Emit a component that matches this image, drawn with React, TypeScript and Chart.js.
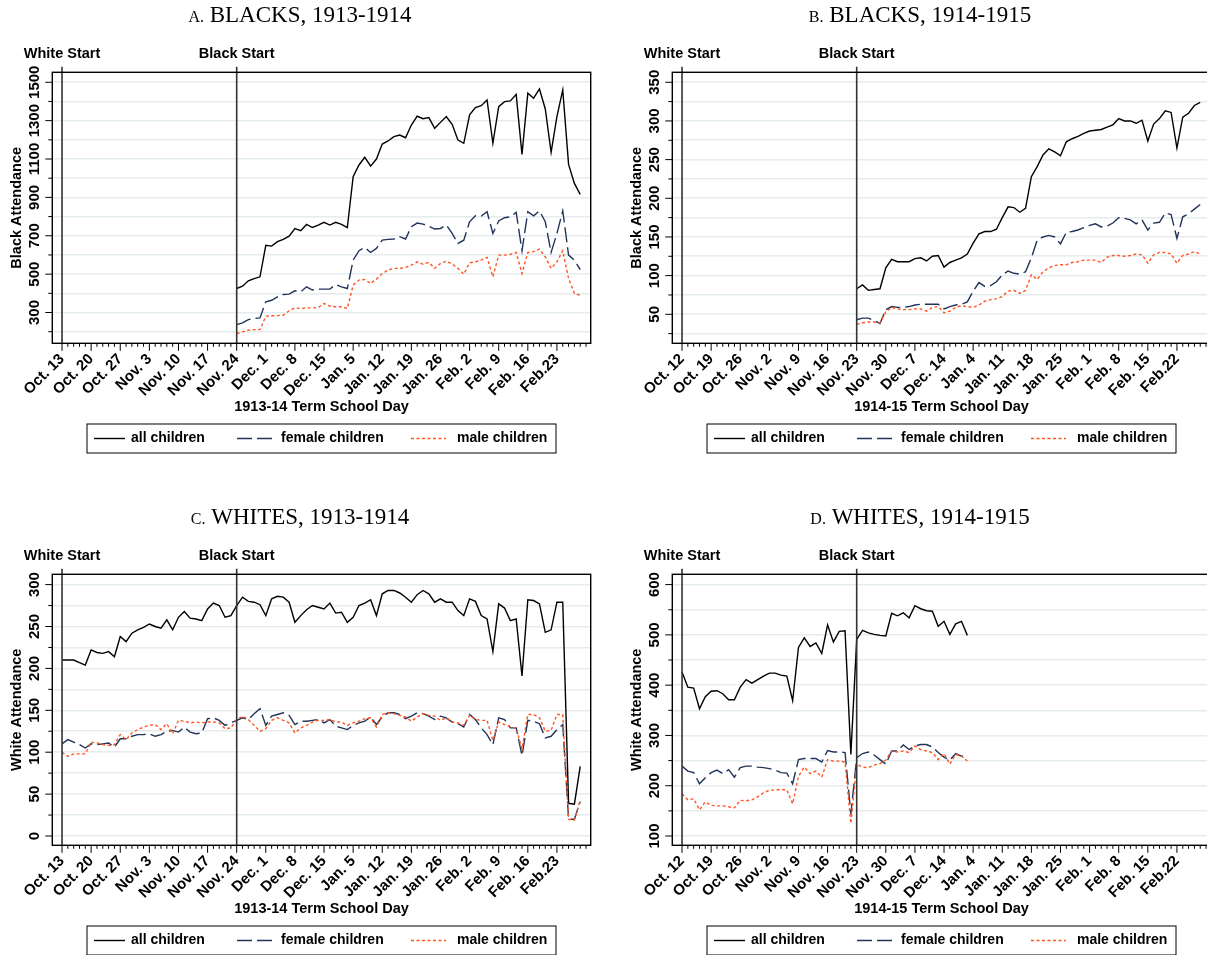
import React, { useEffect, useRef } from "react";
import { Chart, registerables } from "chart.js";

Chart.register(...registerables);

// ---------------- DATA ----------------
const seriesLabels = ["all children", "female children", "male children"];

const panelTitles = [
  "A. BLACKS, 1913-1914",
  "B. BLACKS, 1914-1915",
  "C. WHITES, 1913-1914",
  "D. WHITES, 1914-1915",
];
const yTitles = ["Black Attendance", "Black Attendance", "White Attendance", "White Attendance"];
const xTitles = ["1913-14 Term School Day", "1914-15 Term School Day"];
const startLabels = ["White Start", "Black Start"];
const startDays = [0, 30];

const tickDays = [0, 5, 10, 15, 20, 25, 30, 35, 40, 45, 50, 55, 60, 65, 70, 75, 80, 85];
const tickLabels1314 = [
  "Oct. 13", "Oct. 20", "Oct. 27", "Nov. 3", "Nov. 10", "Nov. 17", "Nov. 24", "Dec. 1", "Dec. 8",
  "Dec. 15", "Jan. 5", "Jan. 12", "Jan. 19", "Jan. 26", "Feb. 2", "Feb. 9", "Feb. 16", "Feb.23",
];
const tickLabels1415 = [
  "Oct. 12", "Oct. 19", "Oct. 26", "Nov. 2", "Nov. 9", "Nov. 16", "Nov. 23", "Nov. 30", "Dec. 7",
  "Dec. 14", "Jan. 4", "Jan. 11", "Jan. 18", "Jan. 25", "Feb. 1", "Feb. 8", "Feb. 15", "Feb.22",
];

// first school day index of each series
const blackFirstDay = 30;
const whiteFirstDay = 0;

// Panel A: Blacks 1913-14 (school days 30..89)
const blacksAll1314 = [
  425, 437, 465, 477, 486, 650, 646, 669, 681, 698,
  737, 726, 759, 743, 756, 770, 756, 770, 759, 742,
  1008, 1069, 1109, 1063, 1100, 1178, 1194, 1217, 1225, 1211,
  1277, 1323, 1310, 1316, 1260, 1291, 1321, 1281, 1199, 1182,
  1330, 1368, 1378, 1408, 1182, 1373, 1399, 1403, 1437, 1124,
  1443, 1417, 1465, 1361, 1135, 1321, 1460, 1072, 973, 916,
];
const blacksFemale1314 = [
  237, 246, 263, 269, 272, 356, 364, 382, 394, 396,
  413, 408, 434, 417, 422, 422, 422, 446, 434, 425,
  573, 622, 639, 613, 634, 677, 681, 683, 695, 683,
  747, 766, 761, 750, 735, 738, 756, 712, 660, 677,
  773, 804, 803, 825, 712, 777, 794, 799, 822, 622,
  825, 804, 830, 773, 613, 712, 830, 599, 573, 524,
];
const blacksMale1314 = [
  190, 199, 208, 211, 211, 281, 283, 284, 286, 309,
  324, 321, 324, 324, 326, 347, 333, 330, 330, 321,
  443, 469, 472, 451, 474, 503, 521, 530, 530, 535,
  547, 564, 552, 561, 530, 556, 568, 552, 530, 500,
  559, 564, 573, 587, 486, 599, 599, 603, 613, 503,
  613, 617, 630, 590, 530, 564, 622, 477, 399, 390,
];

// Panel B: Blacks 1914-15 (school days 30..89)
const blacksAll1415 = [
  83, 88, 81, 82, 83, 110, 121, 118, 118, 118,
  122, 123, 119, 125, 126, 111, 117, 120, 123, 128,
  142, 154, 157, 157, 160, 175, 189, 188, 182, 187,
  228, 241, 256, 264, 260, 255, 273, 277, 280, 284,
  287, 288, 289, 292, 295, 303, 300, 300, 297, 301,
  274, 296, 303, 313, 311, 265, 305, 310, 320, 324,
];
const blacksFemale1415 = [
  43, 45, 45, 42, 38, 56, 60, 59, 59, 60,
  62, 63, 63, 63, 63, 57, 60, 62, 63, 66,
  80, 91, 86, 87, 92, 101, 106, 103, 102, 105,
  123, 146, 150, 152, 150, 141, 156, 157, 159, 162,
  165, 167, 163, 164, 168, 175, 174, 172, 167, 172,
  159, 168, 169, 181, 179, 148, 176, 180, 186, 192,
];
const blacksMale1415 = [
  37, 39, 40, 40, 39, 53, 59, 57, 56, 56,
  57, 57, 54, 59, 60, 52, 54, 59, 61, 60,
  59, 62, 67, 69, 70, 73, 80, 81, 77, 81,
  101, 95, 105, 110, 113, 114, 114, 117, 118, 120,
  120, 120, 117, 124, 126, 126, 125, 126, 128, 127,
  116, 127, 130, 130, 128, 116, 126, 128, 131, 128,
];

// Panel C: Whites 1913-14 (school days 0..89)
const whitesAll1314 = [
  210, 210, 210, 207, 204, 222, 219, 218, 220, 214,
  238, 232, 242, 246, 249, 253, 250, 248, 258, 246,
  261, 268, 260, 259, 257, 271, 278, 275, 261, 263,
  275, 285, 280, 279, 276, 263, 283, 286, 285, 279,
  255, 263, 270, 275, 273, 271, 278, 266, 267, 255,
  261, 275, 278, 282, 263, 289, 293, 293, 290, 285,
  279, 288, 293, 289, 279, 283, 279, 279, 269, 263,
  283, 280, 263, 259, 220, 277, 272, 257, 259, 191,
  282, 281, 277, 243, 246, 279, 279, 39, 38, 83,
];
const whitesFemale1314 = [
  110, 115, 112, 109, 105, 110, 109, 110, 111, 106,
  116, 116, 119, 121, 121, 122, 119, 121, 125, 126,
  124, 130, 124, 122, 123, 140, 141, 138, 132, 135,
  138, 141, 139, 146, 152, 132, 143, 145, 147, 144,
  133, 137, 137, 138, 139, 135, 139, 131, 129, 127,
  132, 135, 137, 142, 133, 142, 147, 147, 145, 140,
  143, 147, 146, 143, 139, 143, 141, 136, 134, 130,
  145, 139, 129, 121, 109, 141, 139, 129, 129, 96,
  138, 137, 134, 117, 119, 127, 133, 20, 20, 41,
];
const whitesMale1314 = [
  100, 95, 98, 98, 98, 112, 111, 109, 108, 109,
  121, 115, 123, 127, 130, 132, 133, 127, 134, 122,
  138, 137, 135, 136, 135, 136, 136, 135, 128, 129,
  139, 143, 139, 132, 125, 128, 138, 141, 138, 135,
  123, 129, 132, 136, 138, 138, 139, 136, 136, 132,
  135, 137, 140, 141, 130, 145, 147, 146, 144, 142,
  137, 142, 146, 144, 143, 138, 141, 136, 135, 132,
  144, 139, 138, 138, 114, 136, 133, 130, 129, 104,
  145, 145, 141, 125, 126, 145, 145, 20, 19, 43,
];

// Panel D: Whites 1914-15 (school days 0..49)
const whitesAll1415 = [
  426, 396, 394, 353, 377, 388, 389, 383, 371, 371,
  396, 411, 404, 411, 418, 424, 424, 420, 418, 369,
  475, 494, 477, 484, 463, 520, 486, 507, 508, 262,
  491, 509, 504, 501, 499, 498, 543, 538, 544, 534,
  558, 552, 548, 547, 517, 527, 501, 522, 527, 499,
];
const whitesFemale1415 = [
  239, 229, 226, 204, 216, 226, 231, 224, 232, 217,
  236, 239, 239, 237, 236, 234, 231, 226, 225, 204,
  252, 254, 254, 254, 247, 270, 267, 267, 266, 144,
  256, 264, 267, 261, 252, 243, 269, 269, 281, 272,
  279, 282, 282, 277, 266, 257, 251, 264, 259, 257,
];
const whitesMale1415 = [
  184, 172, 174, 152, 168, 161, 160, 160, 158, 156,
  171, 170, 172, 178, 186, 191, 192, 192, 192, 164,
  219, 237, 224, 229, 217, 252, 249, 249, 247, 125,
  243, 237, 236, 241, 244, 251, 269, 267, 269, 266,
  279, 272, 269, 266, 252, 264, 243, 262, 259, 249,
];

// y-axis gridlines / labelled ticks
const yGridA = [200, 300, 400, 500, 600, 700, 800, 900, 1000, 1100, 1200, 1300, 1400, 1500];
const yLabelsA = [300, 500, 700, 900, 1100, 1300, 1500];
const yGridB = [25, 50, 75, 100, 125, 150, 175, 200, 225, 250, 275, 300, 325, 350];
const yLabelsB = [50, 100, 150, 200, 250, 300, 350];
const yGridC = [0, 25, 50, 75, 100, 125, 150, 175, 200, 225, 250, 275, 300];
const yLabelsC = [0, 50, 100, 150, 200, 250, 300];
const yGridD = [100, 150, 200, 250, 300, 350, 400, 450, 500, 550, 600];
const yLabelsD = [100, 200, 300, 400, 500, 600];

// ---------------- LAYOUT / STYLE ----------------
const W = 604;
const H = 470;
const PLOT_LEFT = 52.3;
const PLOT_TOP = 72.3;
const PLOT_RIGHT = 590.7;
const PLOT_BOTTOM = 343.3;
const X_MIN = -1.67;
const X_MAX = 90.8;
const LAST_MINOR_TICK = 90;

const SANS = '"Liberation Sans", Arial, Helvetica, sans-serif';
const SERIF = '"Liberation Serif", "Times New Roman", serif';
const GRID_COLOR = "#e4ecee";
const COL_ALL = "#000000";
const COL_FEMALE = "#22345a";
const COL_MALE = "#ff5522";
const DASH_FEMALE = [15, 5];
const DASH_MALE = [3, 2.5];

type Spec = {
  title: string;
  yTitle: string;
  xTitle: string;
  tickLabels: string[];
  first: number;
  all: number[];
  female: number[];
  male: number[];
  yMin: number;
  yMax: number;
  yGrid: number[];
  yLabeled: number[];
  left: number;
  top: number;
};

const panels: Spec[] = [
  {
    title: panelTitles[0], yTitle: yTitles[0], xTitle: xTitles[0], tickLabels: tickLabels1314,
    first: blackFirstDay, all: blacksAll1314, female: blacksFemale1314, male: blacksMale1314,
    yMin: 139.5, yMax: 1552, yGrid: yGridA, yLabeled: yLabelsA, left: 0, top: 0,
  },
  {
    title: panelTitles[1], yTitle: yTitles[1], xTitle: xTitles[1], tickLabels: tickLabels1415,
    first: blackFirstDay, all: blacksAll1415, female: blacksFemale1415, male: blacksMale1415,
    yMin: 12.5, yMax: 362.9, yGrid: yGridB, yLabeled: yLabelsB, left: 620, top: 0,
  },
  {
    title: panelTitles[2], yTitle: yTitles[2], xTitle: xTitles[0], tickLabels: tickLabels1314,
    first: whiteFirstDay, all: whitesAll1314, female: whitesFemale1314, male: whitesMale1314,
    yMin: -11.1, yMax: 312.3, yGrid: yGridC, yLabeled: yLabelsC, left: 0, top: 502,
  },
  {
    title: panelTitles[3], yTitle: yTitles[3], xTitle: xTitles[1], tickLabels: tickLabels1415,
    first: whiteFirstDay, all: whitesAll1415, female: whitesFemale1415, male: whitesMale1415,
    yMin: 81.5, yMax: 620.5, yGrid: yGridD, yLabeled: yLabelsD, left: 620, top: 502,
  },
];

const toPoints = (first: number, values: number[]) =>
  values.map((v, i) => ({ x: first + i, y: v }));

function makeDecor(p: Spec) {
  return {
    id: "stataDecor",
    afterDraw(chart: any) {
      const ctx: CanvasRenderingContext2D = chart.ctx;
      const { left, top, right, bottom } = chart.chartArea;
      const xs = chart.scales.x;
      const ys = chart.scales.y;
      const cx = (left + right) / 2;
      ctx.save();
      ctx.setLineDash([]);

      // vertical start lines
      ctx.strokeStyle = "#333333";
      ctx.lineWidth = 1.6;
      startDays.forEach((d, i) => {
        const x = xs.getPixelForValue(d);
        ctx.beginPath();
        ctx.moveTo(x, top - 5.6);
        ctx.lineTo(x, bottom);
        ctx.stroke();
        ctx.fillStyle = "#000";
        ctx.font = `bold 14.5px ${SANS}`;
        ctx.textAlign = "center";
        ctx.textBaseline = "alphabetic";
        ctx.fillText(startLabels[i], x, top - 14.5);
      });

      // frame
      ctx.strokeStyle = "#000";
      ctx.lineWidth = 1.4;
      ctx.strokeRect(left, top, right - left, bottom - top);

      // y ticks + labels
      ctx.lineWidth = 1;
      p.yGrid.forEach((v) => {
        const y = ys.getPixelForValue(v);
        const major = p.yLabeled.includes(v);
        ctx.beginPath();
        ctx.moveTo(left, y);
        ctx.lineTo(left - (major ? 7 : 4), y);
        ctx.stroke();
      });
      ctx.fillStyle = "#000";
      ctx.font = `bold 15px ${SANS}`;
      ctx.textAlign = "center";
      ctx.textBaseline = "middle";
      p.yLabeled.forEach((v) => {
        const y = ys.getPixelForValue(v);
        ctx.save();
        ctx.translate(left - 17.3, y);
        ctx.rotate(-Math.PI / 2);
        ctx.fillText(String(v), 0, 0);
        ctx.restore();
      });

      // x ticks (minor every school day, major every week)
      for (let d = 0; d <= LAST_MINOR_TICK; d++) {
        const x = xs.getPixelForValue(d);
        if (x > right + 0.5) break;
        const major = tickDays.includes(d);
        ctx.beginPath();
        ctx.moveTo(x, bottom);
        ctx.lineTo(x, bottom + (major ? 7.5 : 3.5));
        ctx.stroke();
      }

      // y title
      ctx.font = `bold 14.5px ${SANS}`;
      ctx.save();
      ctx.translate(16.7, (top + bottom) / 2);
      ctx.rotate(-Math.PI / 2);
      ctx.textAlign = "center";
      ctx.textBaseline = "middle";
      ctx.fillText(p.yTitle, 0, 0);
      ctx.restore();

      // x title
      ctx.textAlign = "center";
      ctx.textBaseline = "middle";
      ctx.fillText(p.xTitle, cx, bottom + 64);

      // panel title with small-caps letter
      const dot = p.title.indexOf(". ");
      const letter = p.title.slice(0, dot + 1);
      const rest = p.title.slice(dot + 1);
      ctx.textBaseline = "alphabetic";
      ctx.textAlign = "left";
      ctx.font = `16px ${SERIF}`;
      const w1 = ctx.measureText(letter).width;
      ctx.font = `23px ${SERIF}`;
      const w2 = ctx.measureText(rest).width;
      const tx = 300 - (w1 + w2) / 2;
      const tb = top - 50.6;
      ctx.font = `16px ${SERIF}`;
      ctx.fillText(letter, tx, tb);
      ctx.font = `23px ${SERIF}`;
      ctx.fillText(rest, tx + w1, tb);

      // legend
      const bx = cx - 234.5;
      const by = bottom + 80.7;
      const bw = 469;
      const bh = 29;
      ctx.strokeStyle = "#000";
      ctx.lineWidth = 1;
      ctx.strokeRect(bx, by, bw, bh);
      const ly = by + bh / 2;
      const items = [
        { l0: 7, l1: 38, t: 44 },
        { l0: 150, l1: 185, t: 194 },
        { l0: 324, l1: 359, t: 370 },
      ];
      chart.data.datasets.forEach((ds: any, i: number) => {
        const it = items[i];
        ctx.strokeStyle = ds.borderColor;
        ctx.lineWidth = ds.borderWidth;
        ctx.setLineDash(ds.borderDash || []);
        ctx.beginPath();
        ctx.moveTo(bx + it.l0, ly);
        ctx.lineTo(bx + it.l1, ly);
        ctx.stroke();
        ctx.setLineDash([]);
        ctx.fillStyle = "#000";
        ctx.font = `bold 14px ${SANS}`;
        ctx.textAlign = "left";
        ctx.textBaseline = "middle";
        ctx.fillText(ds.label, bx + it.t, ly);
      });
      ctx.restore();
    },
  };
}

function makeConfig(p: Spec): any {
  return {
    type: "line",
    data: {
      datasets: [
        {
          label: seriesLabels[0], data: toPoints(p.first, p.all), borderColor: COL_ALL,
          borderWidth: 1.4, pointRadius: 0, tension: 0, order: 3, fill: false,
        },
        {
          label: seriesLabels[1], data: toPoints(p.first, p.female), borderColor: COL_FEMALE,
          borderWidth: 1.4, borderDash: DASH_FEMALE, pointRadius: 0, tension: 0, order: 2, fill: false,
        },
        {
          label: seriesLabels[2], data: toPoints(p.first, p.male), borderColor: COL_MALE,
          borderWidth: 1.4, borderDash: DASH_MALE, pointRadius: 0, tension: 0, order: 1, fill: false,
        },
      ],
    },
    options: {
      responsive: false,
      animation: false,
      events: [],
      layout: {
        autoPadding: false,
        padding: { left: 0, top: PLOT_TOP, right: W - PLOT_RIGHT, bottom: 0 },
      },
      plugins: { legend: { display: false }, tooltip: { enabled: false }, title: { display: false } },
      scales: {
        x: {
          type: "linear",
          position: "bottom",
          min: X_MIN,
          max: X_MAX,
          bounds: "data",
          grid: { display: false },
          border: { display: false },
          afterBuildTicks: (s: any) => {
            s.ticks = tickDays.map((v) => ({ value: v }));
          },
          ticks: {
            autoSkip: false,
            minRotation: 45,
            maxRotation: 45,
            padding: -1,
            color: "#000",
            font: { family: SANS, size: 15, weight: "bold" },
            callback: (v: number) => {
              const i = tickDays.indexOf(v);
              return i >= 0 ? p.tickLabels[i] : "";
            },
          },
          afterFit: (s: any) => {
            s.height = H - PLOT_BOTTOM;
            s.paddingLeft = 0; s.paddingRight = 0; s.paddingTop = 0; s.paddingBottom = 0;
          },
        },
        y: {
          type: "linear",
          position: "left",
          min: p.yMin,
          max: p.yMax,
          bounds: "data",
          grid: { color: GRID_COLOR, lineWidth: 1.6, drawTicks: false },
          border: { display: false },
          ticks: { display: false },
          afterBuildTicks: (s: any) => {
            s.ticks = p.yGrid.map((v) => ({ value: v }));
          },
          afterFit: (s: any) => {
            s.width = PLOT_LEFT;
            s.paddingLeft = 0; s.paddingRight = 0; s.paddingTop = 0; s.paddingBottom = 0;
          },
        },
      },
    },
    plugins: [makeDecor(p)],
  };
}

function Panel({ spec }: { spec: Spec }) {
  const ref = useRef<HTMLCanvasElement | null>(null);
  useEffect(() => {
    if (!ref.current) return;
    const chart = new Chart(ref.current, makeConfig(spec));
    return () => chart.destroy();
  }, [spec]);
  return (
    <canvas
      ref={ref}
      width={W}
      height={H}
      style={{ position: "absolute", left: spec.left, top: spec.top, width: W, height: H }}
    />
  );
}

export default function App() {
  return (
    <div
      style={{
        position: "absolute",
        left: 0,
        top: 0,
        width: 1207,
        height: 955,
        overflow: "hidden",
        background: "#ffffff",
      }}
    >
      {panels.map((p) => (
        <Panel key={p.title} spec={p} />
      ))}
    </div>
  );
}
